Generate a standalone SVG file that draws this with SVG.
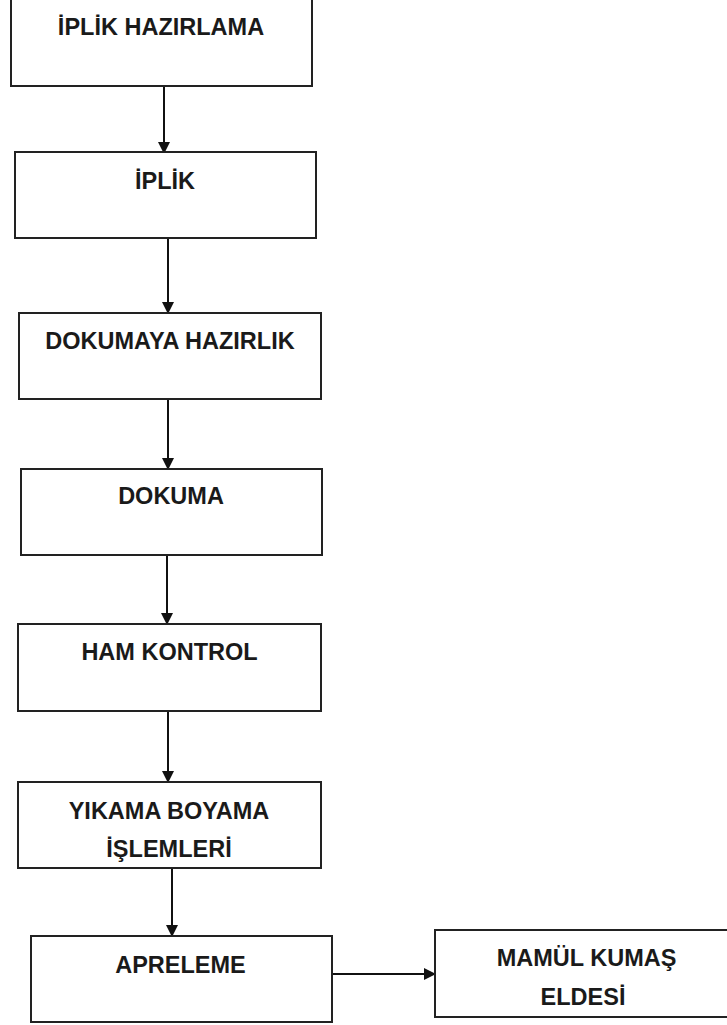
<svg xmlns="http://www.w3.org/2000/svg" width="727" height="1025" viewBox="0 0 727 1025">
<style>
.box{fill:#fff;stroke:#222;stroke-width:2}
.lbl{font-family:"Liberation Sans",Arial,sans-serif;font-weight:bold;font-size:23.5px;fill:#1a1a1a;text-anchor:middle}
.conn{stroke:#111;stroke-width:2;fill:none;marker-end:url(#ah)}
</style>
<defs>
<marker id="ah" markerUnits="userSpaceOnUse" markerWidth="12" markerHeight="12" refX="11" refY="6" orient="auto" viewBox="0 0 12 12">
<path d="M0,0 L12,6 L0,12 z" fill="#111"/>
</marker>
</defs>
<rect width="727" height="1025" fill="#fff"/>
<g id="connectors">
<line class="conn" x1="164" y1="86" x2="164" y2="153"/>
<line class="conn" x1="168" y1="238" x2="168" y2="313"/>
<line class="conn" x1="168" y1="399" x2="168" y2="469"/>
<line class="conn" x1="167" y1="555" x2="167" y2="624"/>
<line class="conn" x1="168" y1="711" x2="168" y2="782"/>
<line class="conn" x1="172" y1="868" x2="172" y2="936"/>
<line class="conn" x1="332" y1="974" x2="435" y2="974"/>
</g>
<g id="n1">
<rect class="box" x="11" y="-2" width="301" height="88"/>
<text class="lbl" x="161" y="35">İPLİK HAZIRLAMA</text>
</g>
<g id="n2">
<rect class="box" x="15" y="152" width="301" height="86"/>
<text class="lbl" x="165" y="189">İPLİK</text>
</g>
<g id="n3">
<rect class="box" x="19" y="313" width="302" height="86"/>
<text class="lbl" x="170" y="349">DOKUMAYA HAZIRLIK</text>
</g>
<g id="n4">
<rect class="box" x="21" y="469" width="301" height="86"/>
<text class="lbl" x="171" y="504">DOKUMA</text>
</g>
<g id="n5">
<rect class="box" x="18" y="624" width="303" height="87"/>
<text class="lbl" x="169.5" y="660">HAM KONTROL</text>
</g>
<g id="n6">
<rect class="box" x="18" y="782" width="303" height="86"/>
<text class="lbl" x="169" y="819">YIKAMA BOYAMA</text>
<text class="lbl" x="169" y="857">İŞLEMLERİ</text>
</g>
<g id="n7">
<rect class="box" x="31" y="936" width="301" height="86"/>
<text class="lbl" x="180.5" y="973">APRELEME</text>
</g>
<g id="n8">
<rect class="box" x="435" y="930" width="310" height="87"/>
<text class="lbl" x="586.5" y="966">MAMÜL KUMAŞ</text>
<text class="lbl" x="583" y="1005">ELDESİ</text>
</g>
</svg>
